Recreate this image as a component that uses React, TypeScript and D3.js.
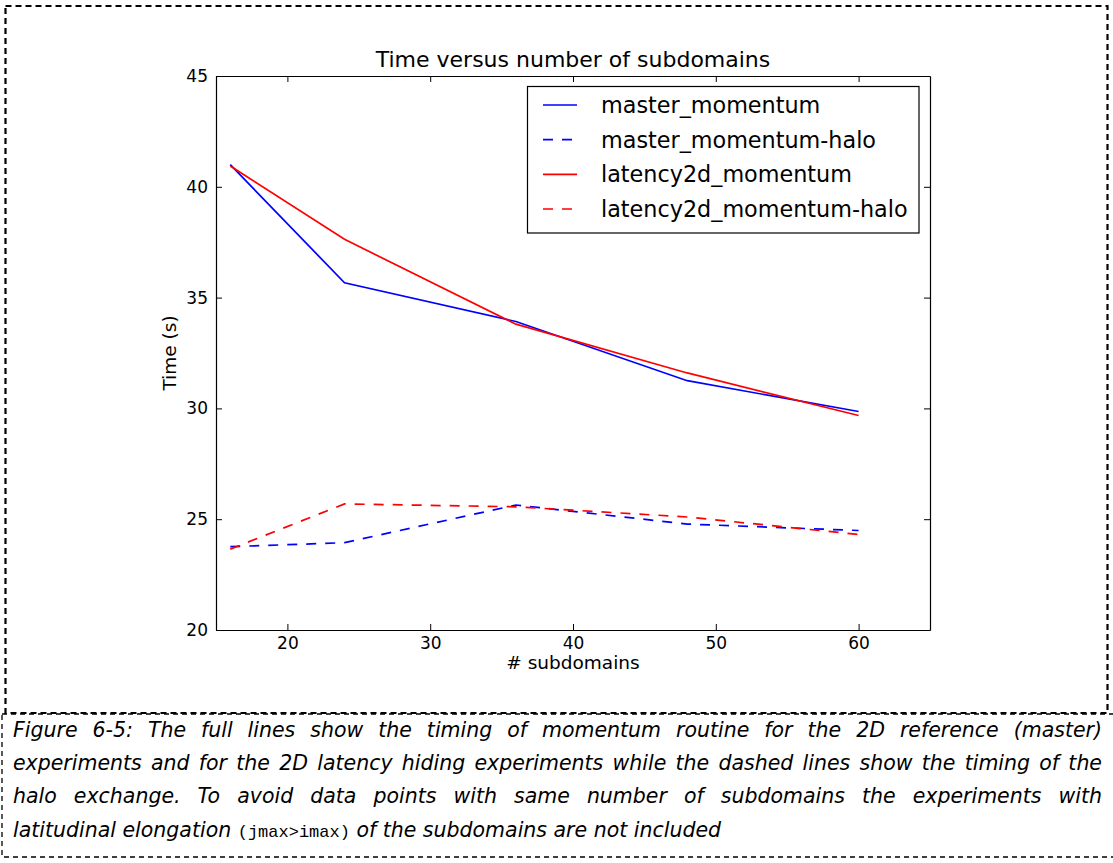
import React, { useEffect, useRef } from "react";
import * as d3 from "d3";

const W = 1113;
const H = 863;

// Number of subdomains used in each experiment
const subdomains = [16, 24, 36, 48, 60];

// Timings in seconds
const masterMomentum = [41.0, 35.67, 33.92, 31.25, 29.86];
const masterMomentumHalo = [23.76, 23.94, 25.64, 24.78, 24.49];
const latency2dMomentum = [40.94, 37.63, 33.8, 31.6, 29.68];
const latency2dMomentumHalo = [23.65, 25.69, 25.56, 25.1, 24.31];

const seriesNames = [
  "master_momentum",
  "master_momentum-halo",
  "latency2d_momentum",
  "latency2d_momentum-halo",
];
const seriesValues = [masterMomentum, masterMomentumHalo, latency2dMomentum, latency2dMomentumHalo];
const seriesColors = ["#0000ff", "#0000ff", "#ff0000", "#ff0000"];
const seriesDashed = [false, true, false, true];

const xTicks = [20, 30, 40, 50, 60];
const yTicks = [20, 25, 30, 35, 40, 45];

const chartTitle = "Time versus number of subdomains";
const xLabel = "# subdomains";
const yLabel = "Time (s)";

const captionJustified = [
  "Figure 6-5: The full lines show the timing of momentum routine for the 2D reference (master)",
  "experiments and for the 2D latency hiding experiments while the dashed lines show the timing of the",
  "halo exchange. To avoid data points with same number of subdomains the experiments with",
];
const captionLastBefore = "latitudinal elongation ";
const captionCode = "(jmax>imax)";
const captionLastAfter = " of the subdomains are not included";

const plot = { left: 216, right: 930, top: 76, bottom: 630 };

export default function App() {
  const ref = useRef<SVGSVGElement | null>(null);

  useEffect(() => {
    const svg = d3.select(ref.current);
    svg.selectAll("*").remove();

    const chartFont = "'DejaVu Sans', sans-serif";

    // figure border and caption border
    svg
      .append("rect")
      .attr("x", 5.5)
      .attr("y", 6)
      .attr("width", 1102)
      .attr("height", 707)
      .attr("fill", "none")
      .attr("stroke", "#000")
      .attr("stroke-width", 2.2)
      .attr("stroke-dasharray", "6 4");
    svg
      .append("rect")
      .attr("x", 2)
      .attr("y", 714)
      .attr("width", 1120)
      .attr("height", 143)
      .attr("fill", "none")
      .attr("stroke", "#000")
      .attr("stroke-width", 1.3)
      .attr("stroke-dasharray", "5 4");

    const x = d3.scaleLinear().domain([15, 65]).range([plot.left, plot.right]);
    const y = d3.scaleLinear().domain([20, 45]).range([plot.bottom, plot.top]);

    const g = svg.append("g");

    // data lines
    seriesValues.forEach((vals, i) => {
      const line = d3
        .line<number>()
        .x((_, j) => x(subdomains[j]))
        .y((d) => y(d));
      g.append("path")
        .datum(vals)
        .attr("d", line)
        .attr("fill", "none")
        .attr("stroke", seriesColors[i])
        .attr("stroke-width", 1.7)
        .attr("stroke-dasharray", seriesDashed[i] ? "10 9" : null);
    });

    const styleAxis = (sel: d3.Selection<SVGGElement, unknown, null, undefined>) => {
      sel.select(".domain").attr("stroke", "#000").attr("stroke-width", 1.2);
      sel.selectAll(".tick line").attr("stroke", "#000").attr("stroke-width", 1);
      sel
        .selectAll(".tick text")
        .attr("fill", "#000")
        .style("font-family", chartFont)
        .style("font-size", "17px");
      sel.attr("font-family", null).attr("font-size", null);
    };

    const bottom = g
      .append("g")
      .attr("transform", `translate(0,${plot.bottom})`)
      .call(d3.axisBottom(x).tickValues(xTicks).tickSize(-6).tickSizeOuter(0).tickPadding(7));
    styleAxis(bottom);
    const top = g
      .append("g")
      .attr("transform", `translate(0,${plot.top})`)
      .call(
        d3
          .axisTop(x)
          .tickValues(xTicks)
          .tickSize(-6)
          .tickSizeOuter(0)
          .tickFormat(() => "")
      );
    styleAxis(top);
    const left = g
      .append("g")
      .attr("transform", `translate(${plot.left},0)`)
      .call(d3.axisLeft(y).tickValues(yTicks).tickSize(-6).tickSizeOuter(0).tickPadding(8));
    styleAxis(left);
    const right = g
      .append("g")
      .attr("transform", `translate(${plot.right},0)`)
      .call(
        d3
          .axisRight(y)
          .tickValues(yTicks)
          .tickSize(-6)
          .tickSizeOuter(0)
          .tickFormat(() => "")
      );
    styleAxis(right);

    // titles
    g.append("text")
      .attr("x", (plot.left + plot.right) / 2)
      .attr("y", 67)
      .attr("text-anchor", "middle")
      .style("font-family", chartFont)
      .style("font-size", "22px")
      .text(chartTitle);
    g.append("text")
      .attr("x", (plot.left + plot.right) / 2)
      .attr("y", 669)
      .attr("text-anchor", "middle")
      .style("font-family", chartFont)
      .style("font-size", "18.5px")
      .text(xLabel);
    g.append("text")
      .attr("transform", `translate(176,${(plot.top + plot.bottom) / 2}) rotate(-90)`)
      .attr("text-anchor", "middle")
      .style("font-family", chartFont)
      .style("font-size", "18.5px")
      .text(yLabel);

    // legend
    const lg = g.append("g");
    lg.append("rect")
      .attr("x", 527.5)
      .attr("y", 86.5)
      .attr("width", 391.5)
      .attr("height", 146.5)
      .attr("fill", "#fff")
      .attr("stroke", "#000")
      .attr("stroke-width", 1.2);
    const rowY = d3.scaleLinear().domain([0, 3]).range([105, 209]);
    seriesNames.forEach((name, i) => {
      const yy = rowY(i);
      lg.append("line")
        .attr("x1", 543)
        .attr("x2", 577)
        .attr("y1", yy)
        .attr("y2", yy)
        .attr("stroke", seriesColors[i])
        .attr("stroke-width", 1.7)
        .attr("stroke-dasharray", seriesDashed[i] ? "10 9" : null);
      lg.append("text")
        .attr("x", 601)
        .attr("y", yy)
        .attr("dy", "0.36em")
        .style("font-family", chartFont)
        .style("font-size", "22.3px")
        .text(name);
    });

    // caption: first three lines justified between the margins
    const capFont = "'DejaVu Sans', sans-serif";
    const capSize = 20.5;
    const capLeft = 13;
    const capRight = 1102;
    const baselines = [737, 770, 803, 837];
    const cap = svg.append("g");
    captionJustified.forEach((lineText, li) => {
      const words = lineText.split(" ");
      const row = cap.append("g");
      const nodes = words.map((w) =>
        row
          .append("text")
          .attr("y", baselines[li])
          .style("font-family", capFont)
          .style("font-style", "italic")
          .style("font-size", `${capSize}px`)
          .text(w)
      );
      const widths = nodes.map((n) => (n.node() as SVGTextElement).getComputedTextLength());
      const total = d3.sum(widths);
      const minGap = capSize * 0.25;
      const avail = capRight - capLeft;
      let gap = (avail - total) / (words.length - 1);
      let squeeze = 1;
      if (gap < minGap) {
        gap = minGap;
        squeeze = (avail - minGap * (words.length - 1)) / total;
      }
      let cx = capLeft;
      nodes.forEach((n, i) => {
        const w = widths[i] * squeeze;
        n.attr("x", cx);
        if (squeeze !== 1) n.attr("textLength", w).attr("lengthAdjust", "spacingAndGlyphs");
        cx += w + gap;
      });
    });
    const last = cap
      .append("text")
      .attr("x", capLeft)
      .attr("y", baselines[3])
      .style("white-space", "pre")
      .style("font-family", capFont)
      .style("font-size", `${capSize}px`);
    last.append("tspan").style("font-style", "italic").text(captionLastBefore);
    last
      .append("tspan")
      .style("font-family", "'Liberation Mono', 'DejaVu Sans Mono', monospace")
      .style("font-size", "17px")
      .text(captionCode);
    last.append("tspan").style("font-style", "italic").text(captionLastAfter);
  }, []);

  return (
    <div style={{ position: "absolute", left: 0, top: 0, width: W, height: H, background: "#fff" }}>
      <svg ref={ref} width={W} height={H} style={{ display: "block" }} />
    </div>
  );
}
